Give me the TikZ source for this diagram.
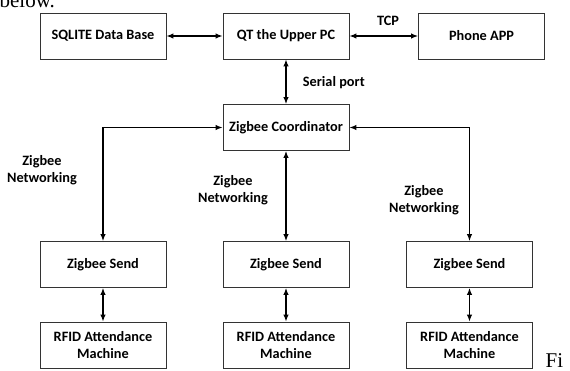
\documentclass[tikz,border=0pt]{standalone}
\usepackage{fontspec}
\usetikzlibrary{arrows.meta}
\setmainfont{Carlito}
\newfontfamily\pagefont{Liberation Serif}
\begin{document}
\begin{tikzpicture}[x=1pt,y=-1pt,line width=1.2pt,>={Latex[length=7pt,width=5.5pt]},
  blk/.style={draw=black!80,line width=0.9pt,minimum width=126pt,minimum height=46pt,align=center,font=\fontsize{14.3}{17}\selectfont\bfseries},
  lbl/.style={align=center,font=\fontsize{14.3}{17}\selectfont\bfseries}]
\useasboundingbox (0,0) rectangle (570,370);
\node[anchor=base west,inner sep=0pt,font=\pagefont\fontsize{21}{24}\selectfont] (below) at (-1,7) {below.};
\node[anchor=base west,inner sep=0pt,font=\pagefont\fontsize{21}{24}\selectfont] (fi) at (545,367) {Fi};
\node[blk] (db) at (103,36) {SQLITE Data Base};
\node[blk] (pc) at (286,36) {QT the Upper PC};
\node[blk] (app) at (481.5,36) {Phone APP};
\node[blk] (co) at (286,127.5) {Zigbee Coordinator};
\foreach \i/\x in {1/103,2/286,3/469.5}{\node[blk] (s\i) at (\x,264.5) {Zigbee Send}; \node[blk] (r\i) at (\x,345) {RFID Attendance\\Machine};};
\draw[<->] (db) -- (pc);
\draw[<->] (pc) -- (app);
\node[lbl] (tcp) at (388,21) {TCP};
\draw[<->] (pc) -- (co);
\node[lbl,anchor=west] (serial) at (299,83) {Serial port};
\draw[<->] (co.west) -| (s1);
\draw[<->] (co) -- (s2);
\draw[<->] (co.east) -| (s3);
\node[lbl] (net1) at (42,170) {Zigbee\\Networking};
\node[lbl] (net2) at (233,190) {Zigbee\\Networking};
\node[lbl] (net3) at (424,200) {Zigbee\\Networking};
\foreach \i in {1,2,3}{\draw[<->] (s\i) -- (r\i);};
\end{tikzpicture}
\end{document}
